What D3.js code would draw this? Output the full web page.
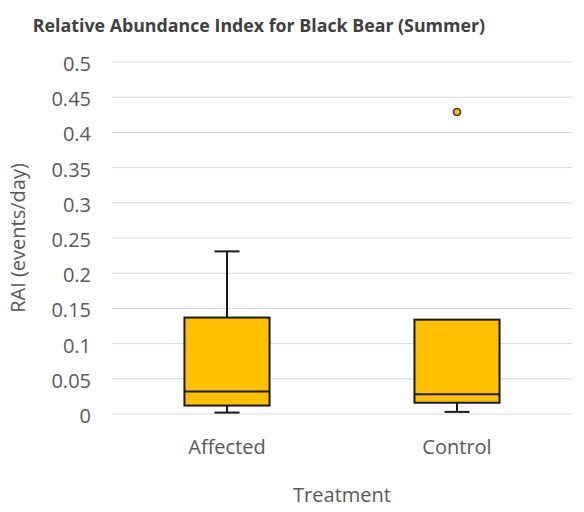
<!DOCTYPE html>
<html>
<head>
<meta charset="utf-8">
<script src="https://cdn.jsdelivr.net/npm/d3@7"></script>
<style>
  html, body { margin: 0; padding: 0; background: #ffffff; }
  svg { display: block; }
  text { font-family: "Open Sans", "Noto Sans", sans-serif; }
</style>
</head>
<body>
<svg id="chart" width="584" height="512"></svg>
<script>
// Box-plot summaries per treatment (RAI, events/day)
const categories = ["Affected", "Control"];
const whiskerLow = [0.002, 0.003];
const q1 = [0.012, 0.016];
const median = [0.032, 0.028];
const q3 = [0.137, 0.134];
const whiskerHigh = [0.231, 0.134];
const outlierCategory = ["Control"];
const outlierValue = [0.429];
const yTicks = [0, 0.05, 0.1, 0.15, 0.2, 0.25, 0.3, 0.35, 0.4, 0.45, 0.5];

const svg = d3.select("#chart");
const plot = { left: 112, right: 572, top: 62, bottom: 414 };

const x = d3.scaleBand().domain(categories).range([plot.left, plot.right]);
const y = d3.scaleLinear().domain([0, 0.5]).range([plot.bottom, plot.top]);

// Horizontal gridlines
svg.append("g")
  .selectAll("line")
  .data(yTicks)
  .join("line")
  .attr("x1", plot.left).attr("x2", plot.right)
  .attr("y1", d => y(d)).attr("y2", d => y(d))
  .attr("stroke", "#d9d9d9").attr("stroke-width", 1);

// Y axis labels
const yAxis = svg.append("g")
  .attr("transform", `translate(${plot.left - 21},2)`)
  .call(d3.axisLeft(y).tickValues(yTicks).tickSize(0).tickPadding(0).tickFormat(d => String(+d.toFixed(2))));
yAxis.select(".domain").remove();
yAxis.selectAll("text")
  .attr("fill", "#595959").style("font-size", "20px")
  .style("font-family", "'Open Sans', sans-serif");

// X axis labels
const xAxis = svg.append("g")
  .attr("transform", `translate(0,${plot.bottom + 26})`)
  .call(d3.axisBottom(x).tickSize(0).tickPadding(0));
xAxis.select(".domain").remove();
xAxis.selectAll("text")
  .attr("fill", "#595959").style("font-size", "20px")
  .style("font-family", "'Open Sans', sans-serif");

// Boxes
const boxW = x.bandwidth() * 0.37;
const capW = 25;
const data = categories.map((c, i) => ({
  c, lo: whiskerLow[i], q1: q1[i], med: median[i], q3: q3[i], hi: whiskerHigh[i]
}));

const g = svg.append("g");
data.forEach(d => {
  const cx = x(d.c) + x.bandwidth() / 2;
  // upper whisker
  if (d.hi > d.q3) {
    g.append("line").attr("x1", cx).attr("x2", cx).attr("y1", y(d.q3)).attr("y2", y(d.hi))
      .attr("stroke", "#1a1a1a").attr("stroke-width", 2);
    g.append("line").attr("x1", cx - capW / 2).attr("x2", cx + capW / 2).attr("y1", y(d.hi)).attr("y2", y(d.hi))
      .attr("stroke", "#1a1a1a").attr("stroke-width", 2);
  }
  // lower whisker
  if (d.lo < d.q1) {
    g.append("line").attr("x1", cx).attr("x2", cx).attr("y1", y(d.q1)).attr("y2", y(d.lo))
      .attr("stroke", "#1a1a1a").attr("stroke-width", 2);
    g.append("line").attr("x1", cx - capW / 2).attr("x2", cx + capW / 2).attr("y1", y(d.lo)).attr("y2", y(d.lo))
      .attr("stroke", "#1a1a1a").attr("stroke-width", 2);
  }
  g.append("rect")
    .attr("x", cx - boxW / 2).attr("width", boxW)
    .attr("y", y(d.q3)).attr("height", y(d.q1) - y(d.q3))
    .attr("fill", "#ffc000").attr("stroke", "#1a1a1a").attr("stroke-width", 2);
  g.append("line")
    .attr("x1", cx - boxW / 2).attr("x2", cx + boxW / 2)
    .attr("y1", y(d.med)).attr("y2", y(d.med))
    .attr("stroke", "#1a1a1a").attr("stroke-width", 2);
});

// Outliers
svg.append("g").selectAll("circle")
  .data(outlierValue.map((v, i) => ({ c: outlierCategory[i], v })))
  .join("circle")
  .attr("cx", d => x(d.c) + x.bandwidth() / 2)
  .attr("cy", d => y(d.v))
  .attr("r", 3.5)
  .attr("fill", "#ffc000").attr("stroke", "#333333").attr("stroke-width", 1.6);

// Title
svg.append("text")
  .attr("x", 259).attr("y", 32)
  .attr("text-anchor", "middle")
  .attr("fill", "#404040")
  .style("font-size", "17.8px").style("font-weight", "bold")
  .text("Relative Abundance Index for Black Bear (Summer)");

// Axis titles
svg.append("text")
  .attr("transform", "translate(25,238) rotate(-90)")
  .attr("text-anchor", "middle")
  .attr("fill", "#595959")
  .style("font-size", "20px")
  .text("RAI (events/day)");

svg.append("text")
  .attr("x", 342).attr("y", 502)
  .attr("text-anchor", "middle")
  .attr("fill", "#595959")
  .style("font-size", "20px")
  .text("Treatment");
</script>
</body>
</html>
